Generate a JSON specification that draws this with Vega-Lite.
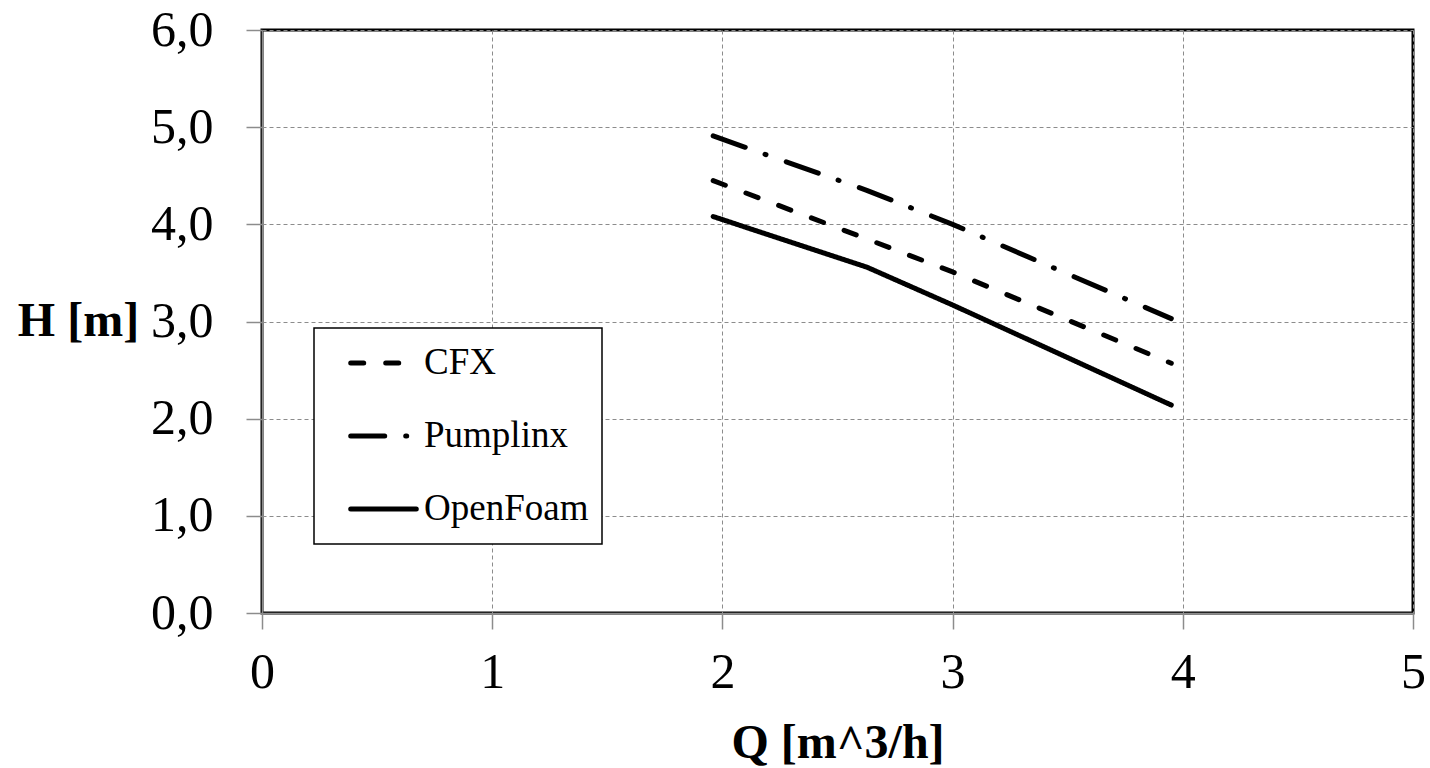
{
  "$schema": "https://vega.github.io/schema/vega-lite/v6.json",
  "autosize": {"type": "none"},
  "padding": {"left": 262, "top": 30, "right": 17, "bottom": 155},
  "width": 1151,
  "height": 583,
  "config": {
    "font": "Liberation Serif",
    "view": {"stroke": "black", "strokeWidth": 3},
    "axis": {
      "gridColor": "#8c8c8c",
      "gridDash": [4, 3],
      "gridWidth": 1,
      "gridOpacity": 1,
      "tickColor": "#8c8c8c",
      "tickWidth": 1.5,
      "tickSize": 16,
      "domainColor": "#8c8c8c",
      "domainWidth": 1.5,
      "labelColor": "black",
      "titleColor": "black",
      "labelFont": "Liberation Serif",
      "titleFont": "Liberation Serif",
      "labelFlush": false
    }
  },
  "data": {
    "values": [
      {"series": "CFX", "Q": 1.96, "H": 4.45},
      {"series": "CFX", "Q": 2.627, "H": 3.85},
      {"series": "CFX", "Q": 3.0, "H": 3.51},
      {"series": "CFX", "Q": 3.95, "H": 2.57},
      {"series": "Pumplinx", "Q": 1.96, "H": 4.91},
      {"series": "Pumplinx", "Q": 2.627, "H": 4.35},
      {"series": "Pumplinx", "Q": 3.0, "H": 4.0},
      {"series": "Pumplinx", "Q": 3.95, "H": 3.03},
      {"series": "OpenFoam", "Q": 1.96, "H": 4.08},
      {"series": "OpenFoam", "Q": 2.627, "H": 3.56},
      {"series": "OpenFoam", "Q": 3.0, "H": 3.17},
      {"series": "OpenFoam", "Q": 3.95, "H": 2.14}
    ]
  },
  "mark": {"type": "line", "color": "black", "strokeCap": "round", "strokeJoin": "round"},
  "encoding": {
    "x": {
      "field": "Q",
      "type": "quantitative",
      "scale": {"domain": [0, 5], "nice": false, "zero": false},
      "axis": {
        "values": [0, 1, 2, 3, 4, 5],
        "labelFontSize": 50,
        "labelPadding": 18,
        "title": "Q [m^3/h]",
        "titleFontSize": 48,
        "titleFontWeight": "bold",
        "titleX": 575.5,
        "titleY": 144,
        "titleAlign": "center",
        "titleBaseline": "alphabetic"
      }
    },
    "y": {
      "field": "H",
      "type": "quantitative",
      "scale": {"domain": [0, 6], "nice": false, "zero": false},
      "axis": {
        "values": [0, 1, 2, 3, 4, 5, 6],
        "labelExpr": "replace(format(datum.value, '.1f'), '.', ',')",
        "labelFontSize": 50,
        "labelPadding": 33,
        "title": "H [m]",
        "titleAngle": 0,
        "titleFontSize": 48,
        "titleFontWeight": "bold",
        "titleX": -184,
        "titleY": 291.5,
        "titleAlign": "center",
        "titleBaseline": "middle"
      }
    },
    "strokeDash": {
      "field": "series",
      "type": "nominal",
      "scale": {
        "domain": ["CFX", "Pumplinx", "OpenFoam"],
        "range": [[13, 22], [34, 21, 1, 21.5], [1, 0]]
      },
      "legend": {
        "title": null,
        "orient": "none",
        "legendX": 52,
        "legendY": 298,
        "strokeColor": "black",
        "fillColor": "white",
        "padding": 13,
        "clipHeight": 44,
        "symbolType": "stroke",
        "symbolSize": 4300,
        "symbolStrokeWidth": 5,
        "symbolStrokeColor": "black",
        "symbolOffset": 21,
        "labelFontSize": 37,
        "labelLimit": 400,
        "labelFont": "Liberation Serif",
        "labelColor": "black",
        "labelOffset": 5,
        "rowPadding": 29,
        "encode": {
          "symbols": {"update": {"strokeCap": {"value": "round"}}},
          "legend": {"update": {"strokeWidth": {"value": 1.5}}}
        }
      }
    },
    "strokeWidth": {
      "field": "series",
      "type": "nominal",
      "scale": {"domain": ["CFX", "Pumplinx", "OpenFoam"], "range": [5, 5, 6]},
      "legend": null
    }
  }
}
